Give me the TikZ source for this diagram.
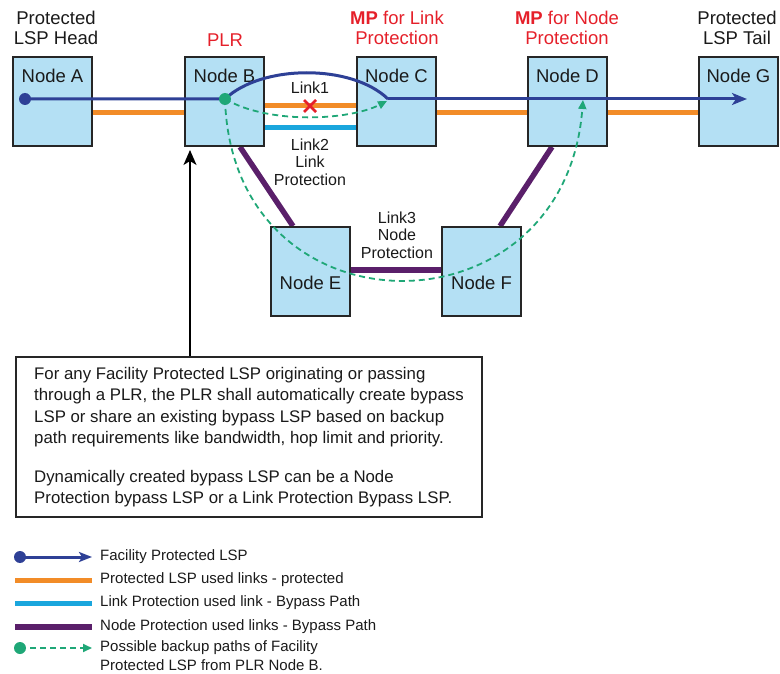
\documentclass[tikz,border=0pt]{standalone}
\usepackage{fontspec}
\setmainfont{Liberation Sans}
\usetikzlibrary{arrows.meta,calc,backgrounds}
\definecolor{lspblue}{HTML}{2E4096}
\definecolor{lsporange}{HTML}{F28C28}
\definecolor{lspcyan}{HTML}{1AA6DD}
\definecolor{lsppurple}{HTML}{5A1F6A}
\definecolor{lspgreen}{HTML}{1FA777}
\definecolor{boxfill}{HTML}{B4E0F4}
\definecolor{mpred}{HTML}{E5202A}
\definecolor{txt}{HTML}{1A1A1A}
\tikzset{
  nodebox/.style={draw=black!85, line width=1.8pt, fill=boxfill, minimum width=79pt, minimum height=89pt, inner sep=0pt},
  nodelbl/.style={font=\fontsize{18.5}{20}\selectfont, text=txt, inner sep=0pt, anchor=north},
  title/.style={font=\fontsize{18.5}{20.5}\selectfont, text=txt, align=center, inner sep=0pt},
  redtitle/.style={title, text=mpred},
  linklbl/.style={font=\fontsize{16}{17.5}\selectfont, text=txt, align=center, inner sep=0pt},
  orangelink/.style={draw=lsporange, line width=5pt},
  cyanlink/.style={draw=lspcyan, line width=5pt},
  purplelink/.style={draw=lsppurple, line width=5.5pt},
  lspline/.style={draw=lspblue, line width=3pt},
  backup/.style={draw=lspgreen, line width=1.8pt, dash pattern=on 6pt off 4pt, -{Triangle[length=9pt,width=8pt]}},
  bluedot/.style={circle, fill=lspblue, minimum size=12pt, inner sep=0pt},
  greendot/.style={circle, fill=lspgreen, minimum size=12pt, inner sep=0pt},
  legtext/.style={font=\fontsize{15}{19}\selectfont, text=txt, anchor=west, align=left, inner sep=0pt},
}
\begin{document}
\begin{tikzpicture}[x=1pt,y=-1pt]
\useasboundingbox (0,0) rectangle (780,674);
\node[nodebox] (A) at (52.5,101.5) {};
\node[nodebox] (B) at (224.5,101.5) {};
\node[nodebox] (C) at (396.5,101.5) {};
\node[nodebox] (D) at (567.5,101.5) {};
\node[nodebox] (G) at (738.5,101.5) {};
\node[nodebox] (E) at (310.5,271.5) {};
\node[nodebox] (F) at (481.5,271.5) {};
% links between boxes (behind boxes)
\begin{scope}[on background layer]
\draw[orangelink] ([yshift=-11.5pt]A.east) -- ([yshift=-11.5pt]B.west);
\draw[orangelink] ([yshift=-4.5pt]B.east) -- ([yshift=-4.5pt]C.west);
\draw[cyanlink] ([yshift=-26.5pt]B.east) -- ([yshift=-26.5pt]C.west);
\draw[orangelink] ([yshift=-11.5pt]C.east) -- ([yshift=-11.5pt]D.west);
\draw[orangelink] ([yshift=-11.5pt]D.east) -- ([yshift=-11.5pt]G.west);
\draw[purplelink] ([xshift=15.5pt]B.south) -- ([xshift=-17.5pt]E.north);
\draw[purplelink] ([xshift=-15.5pt]D.south) -- ([xshift=18.5pt]F.north);
\draw[purplelink] ([yshift=1.5pt]E.east) -- ([yshift=1.5pt]F.west);
\end{scope}
% node labels
\node[nodelbl] (lA) at ([yshift=-12.5pt]A.north) {Node A};
\node[nodelbl] (lB) at ([yshift=-12.5pt]B.north) {Node B};
\node[nodelbl] (lC) at ([yshift=-12.5pt]C.north) {Node C};
\node[nodelbl] (lD) at ([yshift=-12.5pt]D.north) {Node D};
\node[nodelbl] (lG) at ([yshift=-12.5pt]G.north) {Node G};
\node[nodelbl] (lE) at ([yshift=-50pt]E.north) {Node E};
\node[nodelbl] (lF) at ([yshift=-50pt]F.north) {Node F};
% titles
\node[title] (tA) at (56,28) {Protected\\LSP Head};
\node[redtitle] (tB) at (225,40) {PLR};
\node[redtitle] (tC) at (397,28) {\textbf{MP} for Link\\Protection};
\node[redtitle] (tD) at (567,28) {\textbf{MP} for Node\\Protection};
\node[title] (tG) at (737,28) {Protected\\LSP Tail};
% link labels
\node[linklbl] (l1) at (310,88) {Link1};
\node[linklbl] (l2) at (310,162) {Link2\\Link\\Protection};
\node[linklbl] (l3) at (397,235) {Link3\\Node\\Protection};
% red X
\coordinate (xc) at (310,106);
\draw[mpred, line width=2.6pt] ($(xc)+(-6,-6)$) -- ($(xc)+(6,6)$) ($(xc)+(-6,6)$) -- ($(xc)+(6,-6)$);
% facility protected LSP
\coordinate (cin) at (388,99);
\coordinate (gtip) at (747,99);
\node[bluedot] (adot) at (25,99) {};
\node[greendot, opacity=0] (bpos) at (225,99) {};
\draw[lspline] (adot.center) -- (bpos.center) .. controls (262,64) and (352,64) .. (cin);
\draw[lspline, -{Stealth[length=15pt,width=12pt,inset=4pt]}] (cin) -- (gtip);
% backup paths
\coordinate (cbk) at (387,101);
\coordinate (dbk) at (583,100);
\draw[backup] (bpos.center) .. controls (270,125) and (350,120) .. (cbk);
\draw[backup] (bpos.center) .. controls (232,340) and (565,340) .. (dbk);
\node[greendot] (bdot) at (bpos) {};
% note box
\node[draw=black!85, line width=1.8pt, fill=white, minimum width=466pt, minimum height=160pt, inner xsep=13pt, inner ysep=0pt, align=left, font=\fontsize{16.8}{21.5}\selectfont, text=txt] (note) at (249,437) {For any Facility Protected LSP originating or passing\\through a PLR, the PLR shall automatically create bypass\\LSP or share an existing bypass LSP based on backup\\path requirements like bandwidth, hop limit and priority.\\[17pt]Dynamically created bypass LSP can be a Node\\Protection bypass LSP or a Link Protection Bypass LSP.};
\coordinate (ntop) at (190,150);
\draw[black, line width=1.6pt, -{Stealth[length=15pt,width=13pt,inset=4pt]}] (note.north -| ntop) -- (ntop);
% legend
\node[bluedot] (g1a) at (20,557) {};
\coordinate (g1b) at (92,557);
\draw[lspline, -{Stealth[length=13pt,width=10pt,inset=3pt]}] (g1a.center) -- (g1b);
\node[legtext] (g1t) at (100,557) {Facility Protected LSP};
\coordinate (g2a) at (15,580); \coordinate (g2b) at (92,580);
\draw[orangelink] (g2a) -- (g2b);
\node[legtext] (g2t) at (100,580) {Protected LSP used links - protected};
\coordinate (g3a) at (15,603); \coordinate (g3b) at (92,603);
\draw[cyanlink] (g3a) -- (g3b);
\node[legtext] (g3t) at (100,603) {Link Protection used link - Bypass Path};
\coordinate (g4a) at (15,627); \coordinate (g4b) at (92,627);
\draw[purplelink] (g4a) -- (g4b);
\node[legtext] (g4t) at (100,627) {Node Protection used links - Bypass Path};
\node[greendot] (g5a) at (20,648) {};
\coordinate (g5b) at (92,648);
\draw[backup] (g5a.center) -- (g5b);
\node[legtext, anchor=north west] (g5t) at (100,640) {Possible backup paths of Facility\\Protected LSP from PLR Node B.};
\end{tikzpicture}
\end{document}
